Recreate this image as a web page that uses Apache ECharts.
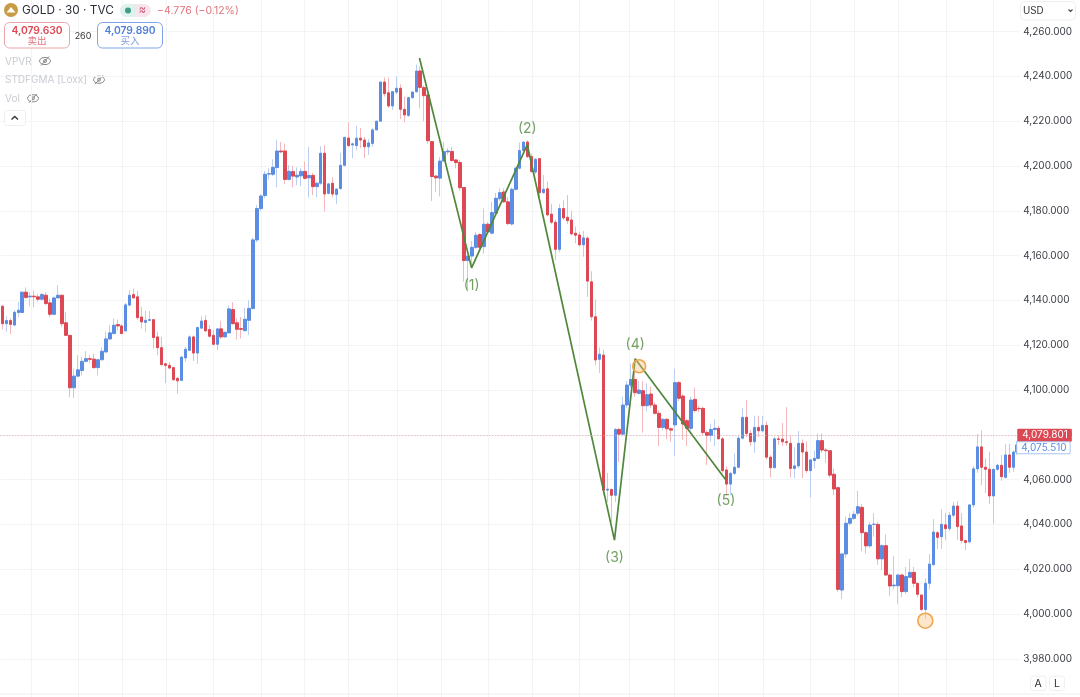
<!DOCTYPE html>
<html><head><meta charset="utf-8">
<style>html,body{margin:0;padding:0;background:#fff;overflow:hidden}#c{width:1080px;height:697px}</style>
<script src="https://cdn.jsdelivr.net/npm/echarts@6/dist/echarts.min.js"></script></head>
<body><div id="c"></div>
<script>
const opens=[4137.4,4129.6,4131,4129,4134.6,4134.6,4143.7,4141.6,4141.9,4141.6,
4140.5,4142.3,4138.9,4133.8,4141.1,4142.3,4130,4124.4,4101,4106.2,
4108.7,4112.8,4114,4113.8,4110,4113.5,4117,4122.8,4125.2,4129.2,
4128.6,4126.4,4137.9,4142.6,4141.6,4132.6,4130.2,4131.1,4131.4,4123.7,
4118.9,4111.7,4111,4110,4105.2,4104.3,4114.3,4117.7,4123.7,4116.5,
4127.6,4131.1,4127,4124.4,4120.4,4127.3,4123.7,4125.5,4135.9,4130,
4127.4,4126.5,4131.1,4136.4,4167,4181,4186.8,4196.4,4196.3,4199.3,
4206.7,4206.7,4194,4197.5,4195.1,4195.6,4197.6,4194.7,4195.8,4190.8,
4192.3,4205.7,4187.8,4192.3,4187.3,4189.9,4200.3,4212.5,4209.4,4209.1,
4212.4,4211.6,4208.6,4210.1,4216.1,4220,4237.5,4232.7,4226.8,4233,
4234.7,4225.3,4222.6,4230.5,4233.2,4242.4,4235,4231.7,4210.9,4195.5,
4194.6,4202.2,4206.3,4206.5,4202.7,4201.6,4190.4,4157.8,4159.8,4163.7,
4169.4,4164,4174,4170,4178.9,4185.4,4188.4,4184,4174.1,4189.6,
4199,4206.9,4210.7,4204.2,4197.3,4203.3,4188.1,4189.8,4178.5,4174.9,
4162.8,4181,4177.1,4175.9,4170,4169.2,4164.8,4167.8,4148.3,4132.7,
4113.7,4115.6,4055.3,4055.6,4053,4082.4,4080.3,4093.3,4102.2,4104.7,
4098.5,4099.7,4093,4098.2,4093.3,4089.6,4083.3,4086.9,4082.7,4084.4,
4103.3,4097.3,4086.3,4082.9,4095.8,4091.8,4091.8,4081,4079.7,4082.4,
4082.9,4078.2,4064.3,4058,4062.8,4065.5,4078.5,4087.8,4080.6,4076.9,
4083.3,4081.8,4084.2,4070,4065.3,4078.2,4078.1,4076.9,4076.2,4065,
4066.1,4076.2,4072.3,4064,4068.5,4069.5,4077.4,4073.2,4072.9,4062.4,
4056.4,4010.7,4026.8,4040.5,4042.7,4045,4047.6,4036.3,4030.4,4040,
4040,4024.6,4030.5,4017.4,4012.6,4012.6,4017.4,4010,4016.4,4018.6,
4013.7,4008.5,4002,4013.7,4022,4036.3,4034.5,4039.8,4038.1,4044.1,
4048.2,4039.3,4032.8,4032.2,4048.7,4064.8,4074.6,4065.5,4064.6,4052.7,
4064.6,4066.4,4061,4071,4065.5,4072.3];
const closes=[4129.6,4131,4129.3,4134.7,4135.6,4143.7,4141.3,4141.9,4141.6,4140.5,
4142.6,4138.6,4133.8,4141.1,4142.3,4129.6,4124.4,4101,4106.2,4109,
4112.8,4114,4113.7,4110,4113.5,4117.3,4122.8,4125.5,4128.9,4128.6,
4125.2,4138,4142.3,4141.1,4132.3,4130.4,4131.1,4131.4,4123.4,4118.9,
4111.3,4111,4109.8,4104.6,4104.1,4114.7,4118.2,4123.7,4116.5,4127.9,
4130.8,4126.4,4124,4120.4,4127.3,4123.7,4125.8,4136.2,4129.6,4127.1,
4127.1,4131.6,4136.4,4167,4181,4186.6,4196.3,4196.6,4199.4,4206.7,
4206.3,4194,4197.6,4195.5,4195.9,4197.6,4194.5,4195.8,4190.8,4192.3,
4205.7,4187.5,4192,4187.5,4189.7,4200.3,4212.8,4209.1,4209.9,4212.4,
4211.6,4208.6,4210.3,4216.1,4220,4237.5,4232.3,4226.8,4233.2,4234.7,
4225.3,4222.8,4230.5,4233,4242.4,4235.1,4231.4,4211.3,4195.3,4194.7,
4202.2,4206.4,4206.7,4202.4,4201.5,4190.3,4157.8,4159.8,4163.7,4169.1,
4163.7,4174,4170.6,4179.2,4185.6,4188.1,4184,4174.3,4189.6,4199,
4206.9,4210.7,4204.2,4197.5,4203,4188.1,4189.6,4178.2,4174.9,4162.8,
4181,4176.8,4175.6,4169.7,4169.1,4164.8,4167.9,4148.6,4132.7,4113.4,
4116,4055.3,4055.7,4053,4082.4,4080.3,4093.3,4102.2,4104.7,4098.8,
4100,4093,4097.9,4093.3,4089.6,4083.3,4086.9,4082.7,4082.1,4103.3,
4096.3,4084.8,4082.9,4095.5,4090.8,4091.6,4081,4079.7,4082.4,4082.9,
4078.2,4064,4058,4062.8,4065.5,4078.5,4087.8,4080.6,4076.9,4083.3,
4081.8,4084.2,4070,4065.3,4078.2,4077.9,4076.9,4076.5,4065,4066.1,
4076.2,4072.3,4064,4068.8,4069.5,4077.4,4073.2,4072.9,4062,4055.8,
4011,4026.8,4040.5,4042.7,4044.5,4047.9,4036.3,4030.4,4039.7,4040.1,
4024.6,4030.5,4017.4,4012.5,4012.9,4017.4,4010,4016.7,4018.6,4013.7,
4008.8,4002,4013.7,4022.3,4036.6,4034.2,4040,4038.1,4044.1,4048.2,
4039,4032.8,4031.9,4048.7,4064.8,4074.6,4065.5,4064.6,4052.7,4064.6,
4066.4,4061.3,4071,4065.5,4072.3,4075.5];
const lows=[4127,4126,4125,4128.5,4132.6,4134.4,4140.8,4137.4,4137,4139.4,
4140,4137.9,4132.6,4133.4,4140.8,4128,4124,4096.8,4096.5,4105.8,
4106.5,4112.5,4112,4109.5,4106.5,4113.2,4116.5,4122.2,4124.9,4126.7,
4124.9,4125.9,4137.4,4140.8,4131.4,4127.4,4125.9,4130.8,4118.4,4115.5,
4111,4103,4109.5,4104,4098.3,4104,4112.5,4117.4,4113,4111.7,
4127.4,4126,4123.4,4120,4117.7,4122.8,4123.4,4125.2,4129.3,4122.5,
4123,4126,4124.6,4136,4166,4180,4185.6,4194,4195.5,4190.5,
4205.8,4192,4193.5,4190.5,4191.5,4191,4194,4186,4187,4186,
4191.5,4179.8,4187.3,4186,4183,4189.5,4199.8,4208.5,4203.5,4207,
4208,4203.5,4205,4208.5,4216,4220,4231,4226,4225,4232,
4221,4219.5,4221.8,4230,4232.6,4225.8,4220,4210,4184.4,4188.5,
4186.4,4202,4205,4202,4199,4189,4148.4,4145,4156,4163,
4163,4160.8,4170,4169.5,4178,4184.5,4183.5,4173.5,4173.5,4189,
4198.5,4206.5,4203.5,4197,4196.5,4184,4187.5,4177.5,4174,4158,
4161.5,4176,4174,4169,4165.5,4164,4159.5,4141.6,4131,4111,
4107.5,4053,4050,4041,4050,4067.7,4079.5,4092,4101,4097,
4098,4081,4090.5,4092,4089,4075,4082,4078,4077,4070.6,
4095,4077.7,4075,4082,4090,4090,4080,4066.5,4077,4075,
4078,4063,4053,4053,4062,4065,4078,4079,4075,4072,
4079,4081,4069,4061,4065,4075.4,4075,4075,4061,4060.5,
4065,4060.7,4063,4052,4065,4069,4072,4067.5,4061,4053,
4010,4006.7,4025,4039.5,4042,4044,4028,4027,4029.5,4034.5,
4022,4019.5,4017,4008,4011,4004.5,4007.5,4009,4016,4012,
4007.5,4001.5,3998,4011,4021.5,4029,4029,4033,4037,4043,
4033,4031.5,4028.5,4031.5,4047.5,4063,4057.5,4054,4049,4040.3,
4064,4059.5,4060.5,4063,4063.5,4071];
const highs=[4138,4133,4132,4135.6,4139.3,4143.8,4145.8,4143.8,4144.3,4143,
4143.4,4143.8,4140.8,4141.6,4146.8,4142.6,4134.9,4124.4,4109.5,4115.5,
4114.7,4117.4,4115.5,4116.2,4114,4119,4126,4129,4131.9,4131.4,
4129.6,4138.9,4144.6,4145.3,4144.3,4137.1,4135.3,4135.3,4131.5,4126,
4123.7,4112,4112.5,4110.5,4105.8,4115,4119.2,4124.4,4124.4,4128.2,
4132.9,4133.4,4128.9,4126.7,4127.3,4130.8,4126,4137.7,4139.2,4131.9,
4132.6,4136.7,4140.1,4168,4182.5,4187.5,4197.8,4199,4203,4211.7,
4210.8,4210,4200.4,4200,4199.4,4199,4202,4208.5,4197,4193,
4208.8,4209.3,4192.5,4195,4190,4205.8,4213,4219.5,4210.5,4218,
4217,4213,4212,4217,4220.2,4237.6,4239.5,4239.5,4233.5,4240,
4236.5,4231,4231,4233.5,4245.3,4244.5,4236,4232.6,4211,4196,
4204,4210.8,4208,4208.5,4203,4202.8,4190.5,4160,4166.5,4170.5,
4170,4181,4175,4184,4188,4190,4190,4186,4190.5,4199.5,
4210.5,4211,4211.5,4205.5,4203.5,4203.5,4196,4193,4183,4176,
4183,4184.6,4187,4180,4173,4170.5,4171,4168.5,4153,4140.5,
4119,4118,4063,4056,4083,4083,4097,4104,4112,4113,
4104,4104,4103,4101.5,4094.5,4091,4087.5,4087.5,4083,4109.5,
4104,4098,4087,4097,4101,4093,4092.5,4082,4085,4087,
4084,4079,4066,4063.5,4071.7,4079.5,4092,4095.5,4082,4088.5,
4088.5,4088.5,4086,4071,4079,4079.9,4085.3,4092.3,4079.6,4074.5,
4081.7,4078,4077,4069,4073,4080.6,4080.6,4074,4073,4064.8,
4056.8,4027,4043.5,4045,4046,4055,4049,4037,4041,4045,
4041,4031,4035.5,4018,4026,4018,4018,4021,4024.6,4021,
4014,4008.5,4016,4026.7,4042.3,4037,4046.8,4045,4045.5,4050,
4050.5,4045,4033,4049,4066,4080.4,4082,4069.5,4072.5,4065,
4067,4071,4076,4076,4073,4077];

const waveIdx=[104.8,117.9,131.9,153.8,159,181.8];
const wavePrice=[4248.2,4154.5,4209.5,4033,4114,4059.8];
const waveLabels=['','(1)','(2)','(3)','(4)','(5)'];
const waveLabelSide=['','bottom','top','bottom','top','bottom'];
const waveLabelGap=[0,10,8,10,6,13];
const circleIdx=[160,231.9];
const circlePrice=[4110.6,3997];
const circleSizes=[13,15];
const timeGridIdx=[7.2,19,30.1,41.1,52.9,65,75.8,86.9,99.2,110.2,122,133.1,144.9,157.5,168.8,179.8,191.1,203,214,225,237.1,248.9];
const lastPrice=4079.801, indexPrice=4075.510;
const sellPrice='4,079.630', buyPrice='4,079.890', spread='260';

const UP='#5b8de2', DOWN='#dc4853', UPW='#bccff3', DOWNW='#f2b8bb', GREEN='#4f883b', FONT='Inter, "Noto Sans CJK SC", sans-serif';
const categories=opens.map((_,i)=>String(i));
const full=opens.map((o,i)=>[o,closes[i],lows[i],highs[i]]);
const bodies=opens.map((o,i)=>[o,closes[i],Math.min(o,closes[i]),Math.max(o,closes[i])]);

function txt(x,y,text,fill,size,extra){return Object.assign({type:'text',x,y,z:50,silent:true,style:Object.assign({text,fill,font:(extra&&extra.weight||'400')+' '+size+'px '+FONT,textAlign:'left',textVerticalAlign:'middle'},extra&&extra.style)});}
function box(x,y,w,h,stroke,r,fill){return {type:'rect',z:49,silent:true,shape:{x,y,width:w,height:h,r:r},style:{fill:fill||'#fff',stroke,lineWidth:1}};}
function eye(cx,cy){return {type:'group',z:50,silent:true,children:[
 {type:'ellipse',shape:{cx,cy,rx:5.5,ry:3.6},style:{fill:'none',stroke:'#8a8a8a',lineWidth:1}},
 {type:'circle',shape:{cx,cy,r:1.5},style:{fill:'none',stroke:'#8a8a8a',lineWidth:1}},
 {type:'line',shape:{x1:cx-4,y1:cy+4.5,x2:cx+4,y2:cy-4.5},style:{stroke:'#8a8a8a',lineWidth:1}}]};}
const centered={style:{textAlign:'center'}};
const graphics=[
 {type:'circle',z:49,silent:true,shape:{cx:11,cy:10,r:7},style:{fill:'#c89b45'}},
 {type:'polygon',z:50,silent:true,shape:{points:[[6.5,12.5],[11,7],[15.5,12.5]]},style:{fill:'#fff'}},
 txt(22,10.5,'GOLD · 30 · TVC','#2a2e39',11.8),
 {type:'rect',z:49,silent:true,shape:{x:120,y:4,width:31,height:13,r:6.5},style:{fill:'#f4e6ec'}},
 {type:'rect',z:49,silent:true,shape:{x:120,y:4,width:15,height:13,r:[6.5,0,0,6.5]},style:{fill:'#dff1ec'}},
 {type:'circle',z:50,silent:true,shape:{cx:128,cy:10.5,r:3},style:{fill:'#3f9c86'}},
 txt(142.5,10,'≈','#d0527a',11,centered),
 txt(157,10.5,'−4.776 (−0.12%)','#e2747c',10.5),
 box(4.5,22.5,65,25.5,'#eaa6aa',5),
 txt(37,31,sellPrice,'#dc4853',10.3,{weight:'600',style:{textAlign:'center'}}),
 txt(37,41.5,'卖出','#e0737b',9.5,centered),
 txt(83,36,spread,'#333',9,centered),
 box(97.5,22.5,65,25.5,'#7fa3ea',5),
 txt(130,31,buyPrice,'#4f7fdc',10.3,{weight:'600',style:{textAlign:'center'}}),
 txt(130,41.5,'买入','#7d9fe6',9.5,centered),
 txt(5,61.5,'VPVR','#c9ccd2',10), eye(45,61),
 txt(5,80,'STDFGMA [Loxx]','#c9ccd2',10), eye(99,79.7),
 txt(5,98.7,'Vol','#c9ccd2',10), eye(33,98.3),
 box(4.5,110.5,21,15,'#efefef',3),
 {type:'polyline',z:50,silent:true,shape:{points:[[11.5,119.5],[14.7,116.5],[18,119.5]]},style:{fill:'none',stroke:'#333',lineWidth:1.3}},
 box(1020.5,1.5,55,18.5,'#f0f0f0',4),
 txt(1023,10.8,'USD','#333',9.8),
 {type:'polyline',z:50,silent:true,shape:{points:[[1068.5,9.5],[1070.5,11.5],[1072.5,9.5]]},style:{fill:'none',stroke:'#444',lineWidth:1.1}},
 box(1030.5,676,15.5,14.5,'#f0f0f0',3),
 txt(1038.2,683.5,'A','#333',10.5,centered),
 box(1049.5,676,15,14.5,'#f0f0f0',3),
 txt(1057,683.5,'L','#333',10.5,centered),
 {type:'line',z:5,silent:true,shape:{x1:0,y1:694,x2:1080,y2:694},style:{stroke:'#eeeff1',lineWidth:1}}
];

const chart=echarts.init(document.getElementById('c'),null,{renderer:'canvas'});
chart.setOption({
 animation:false,backgroundColor:'#fff',
 graphic:graphics,
 grid:{left:0.34,width:1018.9,top:-13.2,height:716.8,containLabel:false,outerBoundsMode:'none'},
 xAxis:[
  {type:'category',data:categories,show:false,boundaryGap:true},
  {type:'value',min:-0.5,max:255.5,show:false,splitLine:{show:false}}
 ],
 yAxis:{type:'value',position:'right',min:3960,max:4280,interval:20,
  axisLine:{show:false},axisTick:{show:false},
  splitLine:{show:true,lineStyle:{color:'#f3f4f6',width:1}},
  axisLabel:{color:'#3a3d44',fontSize:10,fontFamily:FONT,margin:4,showMinLabel:false,showMaxLabel:false,
   formatter:v=>v.toLocaleString('en-US',{minimumFractionDigits:3,maximumFractionDigits:3})}},
 series:[
  {type:'line',name:'time grid',xAxisIndex:1,data:[],silent:true,z:1,
   markLine:{silent:true,symbol:'none',z:1,label:{show:false},lineStyle:{color:'#f3f4f6',width:1,type:'solid'},
    data:timeGridIdx.map(v=>({xAxis:v}))}},
  {type:'candlestick',name:'wicks',data:full,barWidth:1,z:2,silent:true,
   itemStyle:{color:UPW,color0:DOWNW,borderColor:UPW,borderColor0:DOWNW,borderWidth:1}},
  {type:'candlestick',name:'bodies',data:bodies,barWidth:3,z:3,silent:true,
   itemStyle:{color:UP,color0:DOWN,borderColor:UP,borderColor0:DOWN,borderWidth:1}},
  {type:'line',name:'wave',xAxisIndex:1,data:waveIdx.map((x,i)=>[x,wavePrice[i]]),z:4,symbol:'none',silent:true,
   lineStyle:{color:GREEN,width:1.7}},
  {type:'scatter',name:'wave labels',xAxisIndex:1,z:5,silent:true,symbolSize:1,itemStyle:{color:'rgba(0,0,0,0)'},
   data:waveIdx.map((x,i)=>({value:[x,wavePrice[i]],label:{show:!!waveLabels[i],position:waveLabelSide[i],distance:waveLabelGap[i],
     formatter:()=>waveLabels[i],color:GREEN,fontSize:14,fontFamily:FONT}}))},
  {type:'scatter',name:'markers',xAxisIndex:1,z:5,silent:true,
   data:circleIdx.map((x,i)=>({value:[x,circlePrice[i]],symbolSize:circleSizes[i]})),
   itemStyle:{color:'rgba(250,190,120,0.38)',borderColor:'#efa64b',borderWidth:1.6,opacity:1},
   markLine:{silent:true,symbol:'none',animation:false,z:6,
    data:[
     {yAxis:lastPrice,lineStyle:{color:'#e9a4a8',width:1,type:[1,2]},
      label:{show:true,position:'end',distance:-2,formatter:()=>lastPrice.toLocaleString('en-US',{minimumFractionDigits:3}),
       color:'#fff',backgroundColor:'#dc4853',padding:[0,4,0,5],lineHeight:13,height:13,fontSize:10,fontFamily:FONT,borderRadius:1}},
     {yAxis:indexPrice,lineStyle:{color:'rgba(0,0,0,0)',width:0},
      label:{show:true,position:'end',distance:-2,offset:[0,3],formatter:()=>indexPrice.toLocaleString('en-US',{minimumFractionDigits:3}),
       color:'#5b8de2',backgroundColor:'#fff',borderColor:'#a9c4f2',borderWidth:1,padding:[0,3,0,4],lineHeight:11,height:11,fontSize:10,fontFamily:FONT,borderRadius:1}}
    ]}}
 ]
});
</script></body></html>
